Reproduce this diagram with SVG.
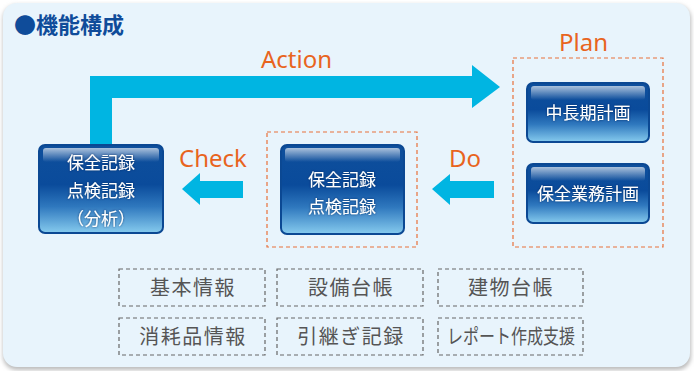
<svg xmlns="http://www.w3.org/2000/svg" width="694" height="371" viewBox="0 0 694 371">
<defs>
<linearGradient id="nodeGrad" x1="0" y1="0" x2="0" y2="1">
<stop offset="0" stop-color="#0E4F9C"/>
<stop offset="0.45" stop-color="#0A4B9B"/>
<stop offset="0.7" stop-color="#2F78BE"/>
<stop offset="1" stop-color="#86CBEE"/>
</linearGradient>
<linearGradient id="hiGrad" x1="0" y1="0" x2="0" y2="1">
<stop offset="0" stop-color="#FFFFFF" stop-opacity="0.65"/>
<stop offset="1" stop-color="#FFFFFF" stop-opacity="0"/>
</linearGradient>
<filter id="shadow" x="-5%" y="-5%" width="110%" height="110%">
<feGaussianBlur stdDeviation="2"/>
</filter>
<filter id="tshadow" x="-10%" y="-20%" width="120%" height="140%">
<feDropShadow dx="0" dy="0" stdDeviation="1" flood-color="#04285A" flood-opacity="0.8"/>
</filter>
</defs>
<style>
.node{fill:url(#nodeGrad);stroke:#0B4893;stroke-width:2}
.hi{fill:url(#hiGrad)}
.nt{font-family:"Noto Sans CJK JP","Noto Sans",sans-serif;font-size:17px;fill:#FFFFFF;text-anchor:middle}
.lbl{font-family:"Noto Sans","Open Sans",sans-serif;font-size:24px;fill:#E8641E}
.grp{fill:none;stroke:#E8703A;stroke-width:1.2;stroke-dasharray:4 3}
.info{fill:none;stroke:#666;stroke-width:1.2;stroke-dasharray:4 3}
.it{font-family:"Noto Sans CJK JP",sans-serif;font-size:20px;fill:#555555;text-anchor:middle;letter-spacing:1.5px}
.arr{fill:#00B5E2}
</style>
<rect x="3" y="5" width="688" height="365" rx="14" fill="#BBBBBB" filter="url(#shadow)"/>
<rect x="3" y="3" width="687" height="364" rx="14" fill="#E8F4FC"/>
<text x="14" y="33" font-family="Noto Sans CJK JP,sans-serif" font-size="22" font-weight="bold" fill="#0F4C9A">●機能構成</text>

<g id="connectors">
<path class="arr" d="M90,148 L90,76 L472,76 L472,65 L500,87 L472,108 L472,98 L112,98 L112,148 Z"/>
<path class="arr" d="M243,181 L200,181 L200,173 L182,189 L200,205 L200,198 L243,198 Z"/>
<path class="arr" d="M494,181 L450,181 L450,174 L432,189 L450,205 L450,198 L494,198 Z"/>
</g>

<text class="lbl" x="261" y="68">Action</text>
<text class="lbl" x="179" y="167">Check</text>
<text class="lbl" x="449" y="167">Do</text>
<text class="lbl" x="559" y="51">Plan</text>

<rect class="grp" x="267" y="132" width="150" height="115"/>
<rect class="grp" x="513" y="58" width="150" height="189"/>

<g id="node-analysis">
<rect class="node" x="39" y="145" width="124" height="88" rx="6"/>
<rect class="hi" x="43" y="148" width="116" height="14" rx="3"/>
<g filter="url(#tshadow)">
<text class="nt" x="101" y="169">保全記録</text>
<text class="nt" x="101" y="197">点検記録</text>
<text class="nt" x="101" y="225">（分析）</text>
</g>
</g>

<g id="node-record">
<rect class="node" x="281" y="145" width="123" height="89" rx="6"/>
<rect class="hi" x="285" y="148" width="115" height="14" rx="3"/>
<g filter="url(#tshadow)">
<text class="nt" x="342" y="186">保全記録</text>
<text class="nt" x="342" y="213">点検記録</text>
</g>
</g>

<g id="node-longterm">
<rect class="node" x="527" y="83" width="122" height="59" rx="6"/>
<rect class="hi" x="531" y="86" width="114" height="14" rx="3"/>
<text class="nt" x="588" y="119" filter="url(#tshadow)">中長期計画</text>
</g>

<g id="node-plan">
<rect class="node" x="527" y="164" width="122" height="59" rx="6"/>
<rect class="hi" x="531" y="167" width="114" height="14" rx="3"/>
<text class="nt" x="588" y="200" filter="url(#tshadow)">保全業務計画</text>
</g>

<g id="info-1"><rect class="info" x="119" y="269" width="146" height="37"/><text class="it" x="193" y="295">基本情報</text></g>
<g id="info-2"><rect class="info" x="277" y="269" width="146" height="37"/><text class="it" x="351" y="295">設備台帳</text></g>
<g id="info-3"><rect class="info" x="438" y="269" width="145" height="37"/><text class="it" x="511" y="295">建物台帳</text></g>
<g id="info-4"><rect class="info" x="119" y="318" width="146" height="37"/><text class="it" x="193" y="344">消耗品情報</text></g>
<g id="info-5"><rect class="info" x="277" y="318" width="146" height="37"/><text class="it" x="351" y="344">引継ぎ記録</text></g>
<g id="info-6"><rect class="info" x="438" y="318" width="145" height="37"/><text x="447" y="344" font-family="Noto Sans CJK JP,sans-serif" font-size="20" fill="#555555" textLength="128" lengthAdjust="spacingAndGlyphs">レポート作成支援</text></g>
</svg>
